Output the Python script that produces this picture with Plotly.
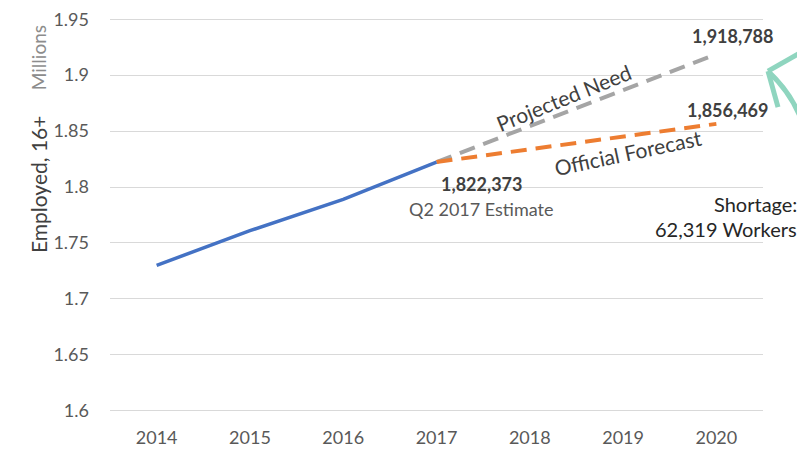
import plotly.graph_objects as go

years = ["2014", "2015", "2016", "2017", "2018", "2019", "2020"]
actual_years = ["2014", "2015", "2016", "2017"]
actual_vals = [1.730, 1.761, 1.789, 1.822373]
forecast_years = ["2017", "2020"]
official_vals = [1.822373, 1.856469]
projected_vals = [1.822373, 1.918788]
y_ticks = [1.6, 1.65, 1.7, 1.75, 1.8, 1.85, 1.9, 1.95]
y_ticktext = ["1.6", "1.65", "1.7", "1.75", "1.8", "1.85", "1.9", "1.95"]

FONT = "Lato, Source Sans Pro, Liberation Sans, sans-serif"

W, H = 805, 450
OFF = 8  # page body margin
SCALE = 1120.0  # px per unit on y
PAD = 0.002
Y0, Y1 = 1.6 - PAD, 1.95 + PAD
L = 102
T = 11 - PAD * SCALE
PW = 653
PH = (Y1 - Y0) * SCALE
R, B = W - L - PW, H - T - PH


def px(sx):
    return (sx - OFF - L) / PW


def py(sy):
    return (T + PH - (sy - OFF)) / PH


i2017 = years.index("2017")
i2020 = years.index("2020")

fig = go.Figure()
fig.add_trace(go.Scatter(x=forecast_years, y=projected_vals, mode="lines",
                         line=dict(color="#A5A5A5", width=4, dash="16px,9px"), hoverinfo="skip"))
fig.add_trace(go.Scatter(x=forecast_years, y=official_vals, mode="lines",
                         line=dict(color="#ED7D31", width=4, dash="16px,9px"), hoverinfo="skip"))
fig.add_trace(go.Scatter(x=actual_years, y=actual_vals, mode="lines",
                         line=dict(color="#4472C4", width=3.5), hoverinfo="skip"))

ann = []
ann.append(dict(x=i2020, y=projected_vals[-1], text="<b>1,918,788</b>", showarrow=False,
                xshift=17, yshift=18, font=dict(size=18, color="#404040", family=FONT)))
ann.append(dict(x=i2020, y=official_vals[-1], text="<b>1,856,469</b>", showarrow=False,
                xshift=12, yshift=14, font=dict(size=18, color="#404040", family=FONT)))
ann.append(dict(x=i2017, y=actual_vals[-1], text="<b>1,822,373</b>", showarrow=False,
                xshift=45, yshift=-22, font=dict(size=18, color="#404040", family=FONT)))
ann.append(dict(x=i2017, y=actual_vals[-1], text="Q2 2017 Estimate", showarrow=False,
                xshift=45, yshift=-47, font=dict(size=18, color="#595959", family=FONT)))
ann.append(dict(x=i2017, y=actual_vals[-1], text="Projected Need", showarrow=False,
                xshift=127, yshift=65, textangle=-22, font=dict(size=21, color="#404040", family=FONT)))
ann.append(dict(x=i2017, y=actual_vals[-1], text="Official Forecast", showarrow=False,
                xshift=191, yshift=10, textangle=-12, font=dict(size=21, color="#404040", family=FONT)))
ann.append(dict(xref="paper", yref="paper", x=px(799), y=py(204), text="Shortage:",
                showarrow=False, xanchor="right", yanchor="middle",
                font=dict(size=20, color="#262626", family=FONT)))
ann.append(dict(xref="paper", yref="paper", x=px(799), y=py(229), text="62,319 Workers",
                showarrow=False, xanchor="right", yanchor="middle",
                font=dict(size=20, color="#262626", family=FONT)))
ann.append(dict(xref="paper", yref="paper", x=px(38), y=py(185), text="Employed, 16+",
                showarrow=False, textangle=-90, xanchor="center", yanchor="middle",
                font=dict(size=21, color="#404040", family=FONT)))
ann.append(dict(xref="paper", yref="paper", x=px(38), y=py(58), text="Millions",
                showarrow=False, textangle=-90, xanchor="center", yanchor="middle",
                font=dict(size=19, color="#8c8c8c", family=FONT)))

teal = "#8FD5BF"


def P(x, y):
    return f"{px(x)},{py(y)}"


shapes = [
    dict(type="path", xref="paper", yref="paper",
         path=f"M {P(800,211)} C {P(815,170)} {P(815,115)} {P(768,71)}",
         line=dict(color=teal, width=5)),
    dict(type="line", xref="paper", yref="paper", x0=px(768), y0=py(71), x1=px(808), y1=py(48),
         line=dict(color=teal, width=5)),
    dict(type="line", xref="paper", yref="paper", x0=px(768), y0=py(71), x1=px(778), y1=py(107),
         line=dict(color=teal, width=5)),
]

fig.update_layout(
    width=W, height=H,
    margin=dict(l=L, r=R, t=T, b=B, autoexpand=False),
    paper_bgcolor="white", plot_bgcolor="white",
    showlegend=False,
    annotations=ann,
    shapes=shapes,
    font=dict(family=FONT, color="#595959", size=18),
    xaxis=dict(type="category", categoryorder="array", categoryarray=years,
               tickvals=years, range=[-0.5, 6.5], showgrid=False, zeroline=False,
               showline=False, ticks="", ticklabelstandoff=12, ticklabeloverflow="allow",
               tickfont=dict(size=18, color="#595959", family=FONT)),
    yaxis=dict(range=[Y0, Y1], tickvals=y_ticks, ticktext=y_ticktext,
               showgrid=True, gridcolor="#D9D9D9", gridwidth=1, zeroline=False,
               showline=False, ticks="", ticklabelstandoff=20, ticklabeloverflow="allow",
               tickfont=dict(size=18, color="#595959", family=FONT)),
)

fig.write_html("out.html")
